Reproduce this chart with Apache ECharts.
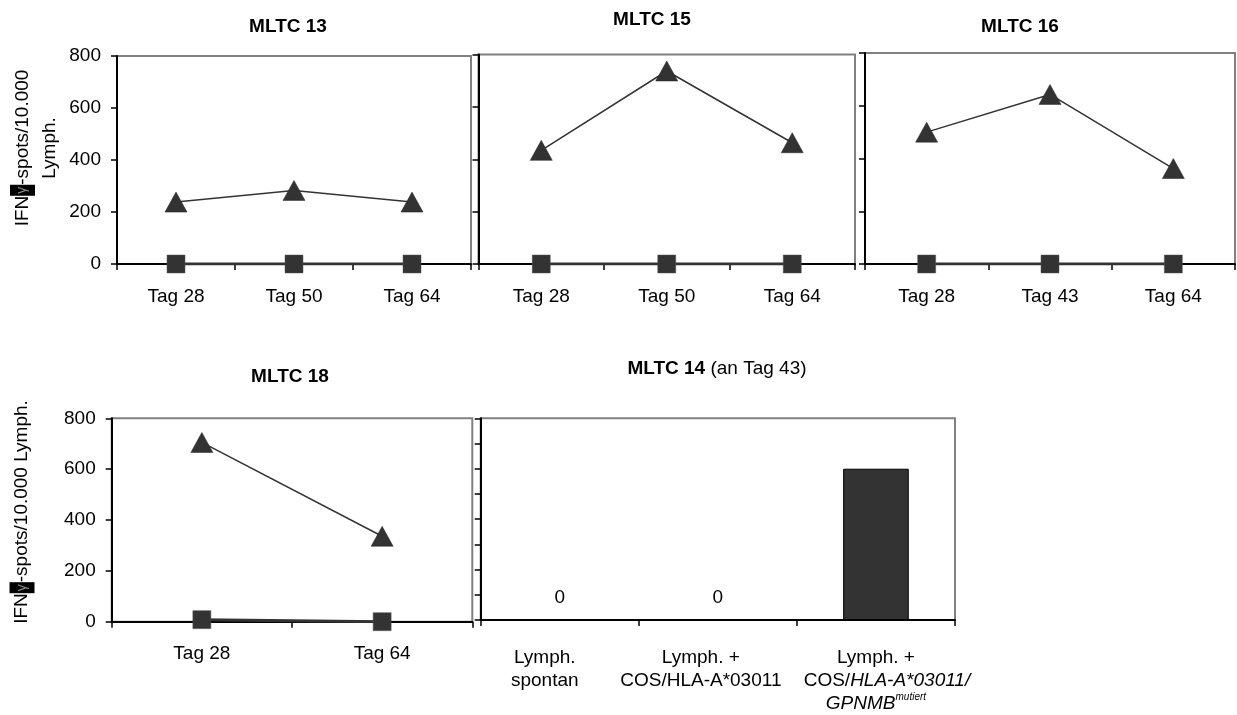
<!DOCTYPE html>
<html>
<head>
<meta charset="utf-8">
<script src="https://cdn.jsdelivr.net/npm/echarts@6/dist/echarts.min.js"></script>
<style>
  html, body { margin: 0; padding: 0; background: #fff; }
  #chart { width: 1237px; height: 715px; }
</style>
</head>
<body>
<div id="chart"></div>
<script>
// Sampling days of each mixed lymphocyte tumour cell culture
const daysMLTC13 = ['Tag 28', 'Tag 50', 'Tag 64'];
const daysMLTC15 = ['Tag 28', 'Tag 50', 'Tag 64'];
const daysMLTC16 = ['Tag 28', 'Tag 43', 'Tag 64'];
const daysMLTC18 = ['Tag 28', 'Tag 64'];

// IFN-gamma spots per 10.000 lymphocytes: tumour targets (triangles) and controls (squares)
const tumourMLTC13 = [238, 283, 238];
const controlMLTC13 = [0, 0, 0];
const tumourMLTC15 = [434, 737, 463];
const controlMLTC15 = [0, 0, 0];
const tumourMLTC16 = [500, 643, 362];
const controlMLTC16 = [0, 0, 0];
const tumourMLTC18 = [705, 336];
const controlMLTC18 = [8, 0];

// MLTC 14 on day 43, per stimulator
const stimulatorsMLTC14 = ['Lymph.\nspontan', 'Lymph. +\nCOS/HLA-A*03011', 'Lymph. +\nCOS/HLA-A*03011/\nGPNMB mutiert'];
const spotsMLTC14 = [0, 0, 600];

// Value axis range
const yMin = 0;
const yMax = 800;
const yStep = 200;
const yStepBar = 100;

const FONT = '"Liberation Sans", Arial, sans-serif';
const FS = 19;
const INK = '#333333';

const grids = [
  { left: 117, top: 56, width: 354, height: 208 },
  { left: 478.5, top: 54.5, width: 376.5, height: 209.5 },
  { left: 865, top: 53, width: 370, height: 211 },
  { left: 111.7, top: 418.3, width: 360.6, height: 203.4 },
  { left: 480.7, top: 418.3, width: 474.3, height: 201.7 }
].map(g => Object.assign({
  show: true,
  borderColor: '#808080',
  borderWidth: 2,
  backgroundColor: 'transparent',
  containLabel: false,
  outerBoundsMode: 'none'
}, g));

function xAxis(gridIndex, data, labelExtra) {
  return {
    type: 'category',
    gridIndex,
    data,
    boundaryGap: true,
    axisLine: { show: true, lineStyle: { color: '#000', width: 2 } },
    axisTick: { show: true, inside: false, length: 6, alignWithLabel: false, lineStyle: { color: '#000', width: 1.5 } },
    splitLine: { show: false },
    axisLabel: Object.assign({
      interval: 0,
      hideOverlap: false,
      fontFamily: FONT,
      fontSize: FS,
      color: '#000',
      margin: 23
    }, labelExtra || {})
  };
}

function yAxis(gridIndex, showLabels, step) {
  return {
    type: 'value',
    gridIndex,
    min: yMin,
    max: yMax,
    interval: step,
    axisLine: { show: true, lineStyle: { color: '#000', width: 2 } },
    axisTick: { show: true, inside: false, length: 6, lineStyle: { color: '#000', width: 1.5 } },
    splitLine: { show: false },
    axisLabel: { show: showLabels, fontFamily: FONT, fontSize: FS, color: '#000', margin: 16 }
  };
}

function tumourLine(idx, data) {
  return {
    type: 'line',
    xAxisIndex: idx,
    yAxisIndex: idx,
    data,
    symbol: 'triangle',
    symbolSize: [22, 20],
    lineStyle: { color: INK, width: 1.5 },
    itemStyle: { color: INK, borderColor: '#222', borderWidth: 0.5 },
    z: 3
  };
}

function controlLine(idx, data) {
  return {
    type: 'line',
    xAxisIndex: idx,
    yAxisIndex: idx,
    data,
    symbol: 'rect',
    symbolSize: 18,
    lineStyle: { color: INK, width: 3 },
    itemStyle: { color: INK, borderColor: '#555', borderWidth: 0.5 },
    z: 4
  };
}

// Stimulator labels: the transfected construct gets italic gene names and a superscript;
// the first two labels sit slightly left of their slots, the long construct line slightly right
const stimulatorLabel = (value, index) => {
  const lines = value.split('\n');
  if (index === 0) return lines.map(l => '{a|' + l + '}').join('\n');
  if (index === 1) return lines.map(l => '{b|' + l + '}').join('\n');
  return lines[0] + '\n{c|COS/}{ci|HLA-A*03011/}\n{i|GPNMB}{sup|mutiert}';
};

const titleFont = 'bold ' + FS + 'px ' + FONT;
const plainFont = FS + 'px ' + FONT;
const gammaBox = { backgroundColor: '#000', fill: '#888', width: 11, height: 25, lineHeight: 27, align: 'center', font: '14px ' + FONT };
const labelBase = { fontFamily: FONT, fontSize: FS, color: '#000', lineHeight: 22.5 };

const option = {
  animation: false,
  backgroundColor: '#fff',
  grid: grids,
  xAxis: [
    xAxis(0, daysMLTC13),
    xAxis(1, daysMLTC15),
    xAxis(2, daysMLTC16),
    xAxis(3, daysMLTC18),
    xAxis(4, stimulatorsMLTC14, {
      margin: 27,
      lineHeight: 22.5,
      formatter: stimulatorLabel,
      rich: {
        a: Object.assign({ padding: [0, 30, 0, 0] }, labelBase),
        b: Object.assign({ padding: [0, 34, 0, 0] }, labelBase),
        c: Object.assign({ padding: [0, 0, 0, 22] }, labelBase),
        ci: Object.assign({ fontStyle: 'italic' }, labelBase),
        i: Object.assign({ fontStyle: 'italic' }, labelBase),
        sup: { fontFamily: FONT, fontSize: 10, fontStyle: 'italic', color: '#000', lineHeight: 12, verticalAlign: 'top', padding: [0, 0, 10, 0] }
      }
    })
  ],
  yAxis: [
    yAxis(0, true, yStep),
    yAxis(1, false, yStep),
    yAxis(2, false, yStep),
    yAxis(3, true, yStep),
    yAxis(4, false, yStepBar)
  ],
  series: [
    tumourLine(0, tumourMLTC13), controlLine(0, controlMLTC13),
    tumourLine(1, tumourMLTC15), controlLine(1, controlMLTC15),
    tumourLine(2, tumourMLTC16), controlLine(2, controlMLTC16),
    tumourLine(3, tumourMLTC18), controlLine(3, controlMLTC18),
    {
      type: 'bar',
      xAxisIndex: 4,
      yAxisIndex: 4,
      barWidth: '41.5%',
      itemStyle: { color: INK, borderColor: '#000', borderWidth: 1 },
      data: spotsMLTC14.map(v => ({ value: v, label: { show: v === 0 } })),
      label: {
        position: 'top',
        distance: 12,
        fontFamily: FONT,
        fontSize: FS,
        color: '#000'
      }
    }
  ],
  graphic: [
    { type: 'text', x: 288, y: 27, style: { text: 'MLTC 13', font: titleFont, fill: '#000', align: 'center', verticalAlign: 'middle' } },
    { type: 'text', x: 652, y: 20, style: { text: 'MLTC 15', font: titleFont, fill: '#000', align: 'center', verticalAlign: 'middle' } },
    { type: 'text', x: 1020, y: 27, style: { text: 'MLTC 16', font: titleFont, fill: '#000', align: 'center', verticalAlign: 'middle' } },
    { type: 'text', x: 290, y: 377, style: { text: 'MLTC 18', font: titleFont, fill: '#000', align: 'center', verticalAlign: 'middle' } },
    {
      type: 'text', x: 717, y: 369,
      style: {
        text: '{b|MLTC 14} (an Tag 43)',
        font: plainFont,
        fill: '#000',
        align: 'center',
        verticalAlign: 'middle',
        rich: { b: { font: titleFont, fill: '#000' } }
      }
    },
    {
      type: 'text', x: 36, y: 148, rotation: Math.PI / 2,
      style: {
        text: 'IFN{g|γ}-spots/10.000\nLymph.',
        font: plainFont,
        fill: '#000',
        align: 'center',
        verticalAlign: 'middle',
        lineHeight: 27,
        rich: { g: gammaBox }
      }
    },
    {
      type: 'text', x: 22, y: 512, rotation: Math.PI / 2,
      style: {
        text: 'IFN{g|γ}-spots/10.000 Lymph.',
        font: plainFont,
        fill: '#000',
        align: 'center',
        verticalAlign: 'middle',
        lineHeight: 27,
        rich: { g: gammaBox }
      }
    }
  ]
};

const chart = echarts.init(document.getElementById('chart'), null, { renderer: 'canvas' });
chart.setOption(option);
</script>
</body>
</html>
